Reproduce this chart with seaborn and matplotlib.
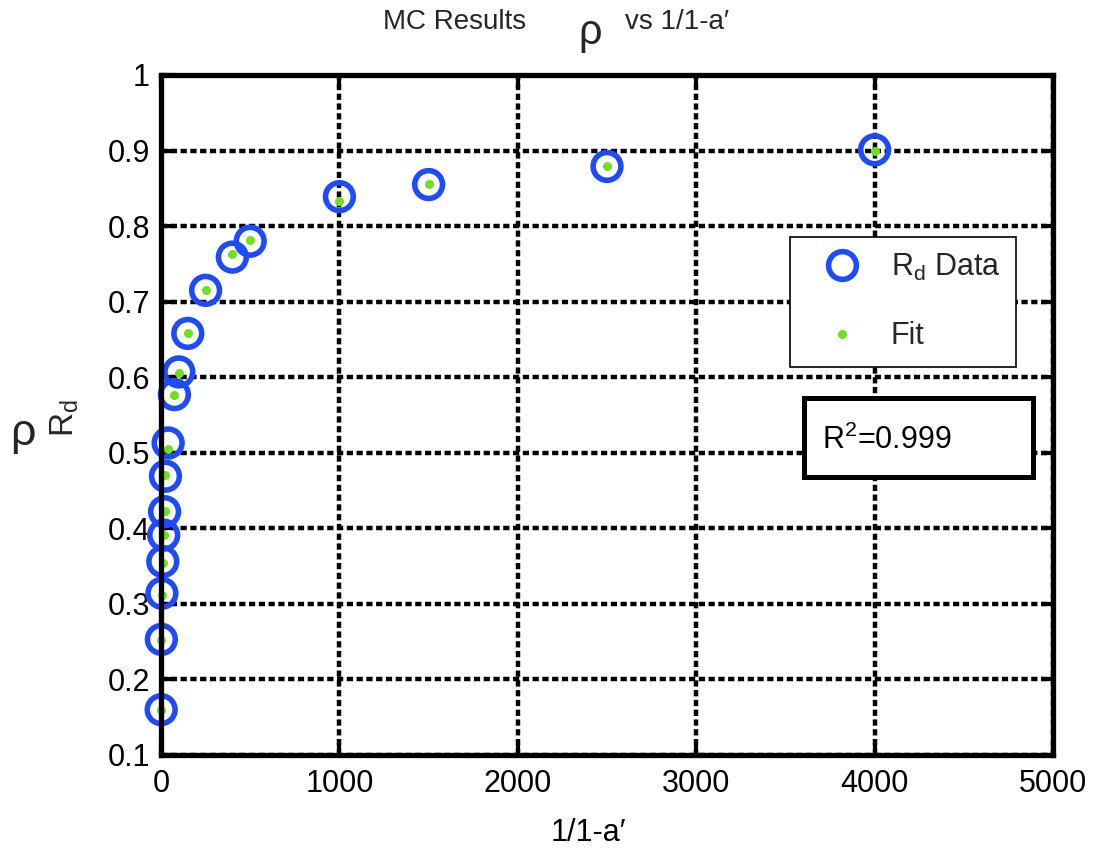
import matplotlib
matplotlib.use("Agg")
import matplotlib.pyplot as plt
import numpy as np
import pandas as pd
import seaborn as sns
from matplotlib.lines import Line2D
from matplotlib.patches import Rectangle

# ---- data ----
x_vals = [1, 2, 5, 10, 15, 20, 25, 40, 75, 100, 150, 250, 400, 500, 1000, 1500, 2500, 4000]
rd_data = [0.160, 0.253, 0.314, 0.356, 0.391, 0.422, 0.469, 0.513, 0.577, 0.607,
           0.658, 0.715, 0.759, 0.780, 0.839, 0.855, 0.879, 0.901]
rd_fit = [0.160, 0.252, 0.312, 0.354, 0.391, 0.423, 0.471, 0.505, 0.576, 0.606,
          0.658, 0.715, 0.763, 0.782, 0.833, 0.856, 0.879, 0.899]
x_ticks = [0, 1000, 2000, 3000, 4000, 5000]
x_ticklabels = ["0", "1000", "2000", "3000", "4000", "5000"]
y_ticks = [0.1, 0.2, 0.3, 0.4, 0.5, 0.6, 0.7, 0.8, 0.9, 1.0]
y_ticklabels = ["0.1", "0.2", "0.3", "0.4", "0.5", "0.6", "0.7", "0.8", "0.9", "1"]
legend_labels = [r"R$_\mathregular{d}$ Data", "Fit"]
r2_label = r"R$^\mathregular{2}$=0.999"

BLUE = "#1f4bff"
GREEN = "#6ee01e"

sns.set_theme(style="white")
plt.rcParams["font.family"] = ["Liberation Sans", "DejaVu Sans"]
plt.rcParams["mathtext.fontset"] = "custom"
plt.rcParams["mathtext.rm"] = "Liberation Sans"

fig = plt.figure(figsize=(10.99, 8.56), dpi=100)
fig.patch.set_facecolor("white")
ax = fig.add_axes([161 / 1099, 1 - 755 / 856, 892 / 1099, 680 / 856])

df = pd.DataFrame({"x": x_vals, "data": rd_data, "fit": rd_fit})

sns.scatterplot(data=df, x="x", y="data", ax=ax, s=400, marker="o", legend=False, zorder=3)
c1 = ax.collections[-1]
c1.set_facecolor("none")
c1.set_edgecolor(BLUE)
c1.set_linewidth(4)
c1.set_clip_on(False)

sns.scatterplot(data=df, x="x", y="fit", ax=ax, s=42, marker="o", color=GREEN,
                linewidth=0, legend=False, zorder=4)
c2 = ax.collections[-1]
c2.set_clip_on(False)

ax.set_xlim(0, 5000)
ax.set_ylim(0.1, 1.0)
ax.set_xticks(x_ticks)
ax.set_xticklabels(x_ticklabels)
ax.set_yticks(y_ticks)
ax.set_yticklabels(y_ticklabels)

ax.grid(True, color="black", linestyle=(0, (1.4, 0.8)), linewidth=3.2)
ax.set_axisbelow(True)

for sp in ax.spines.values():
    sp.set_visible(True)
    sp.set_color("black")
    sp.set_linewidth(3.8)
    sp.set_zorder(5)

ax.tick_params(axis="both", direction="in", length=9, width=3, color="black",
               top=True, right=True, bottom=True, left=True, labelsize=22,
               labelcolor="black")
ax.tick_params(axis="x", pad=10)
ax.tick_params(axis="y", pad=8)

ax.set_xlabel("1/1-a\u2032", fontsize=22, color="black")
ax.xaxis.set_label_coords((588 - 161) / 892, -0.093)
ax.set_ylabel("")

# legend
handles = [
    Line2D([], [], marker="o", ls="", markersize=20, markerfacecolor="none",
           markeredgecolor=BLUE, markeredgewidth=4),
    Line2D([], [], marker="o", ls="", markersize=6.5, markerfacecolor=GREEN,
           markeredgecolor="none"),
]
leg = ax.legend(handles, legend_labels, loc="upper left", bbox_to_anchor=(0.705, 0.762),
                borderaxespad=0, fontsize=22, frameon=True, fancybox=False,
                framealpha=1, edgecolor="black", borderpad=0.5, handlelength=2.4,
                handletextpad=0.4, labelspacing=1.25)
leg.get_frame().set_linewidth(1.2)
leg.set_zorder(6)

# R^2 box
ax.add_patch(Rectangle((0.721, 0.409), 0.257, 0.116, transform=ax.transAxes,
                       facecolor="white", edgecolor="black", linewidth=3.6,
                       zorder=6, clip_on=False))
ax.text((822 - 161) / 892, (755 - 440) / 680, r2_label, transform=ax.transAxes,
        fontsize=22, ha="left", va="center", zorder=7, color="black")

# title pieces
fig.text(383 / 1099, 1 - 29 / 856, "MC Results", fontsize=20, ha="left", va="baseline")
fig.text(578 / 1099, 1 - 44 / 856, "\u03c1", fontsize=30, ha="left", va="baseline")
fig.text(625 / 1099, 1 - 29 / 856, "vs 1/1-a\u2032", fontsize=20, ha="left", va="baseline")

# y label pieces
fig.text(23 / 1099, 1 - 445 / 856, "\u03c1", fontsize=32, ha="center", va="baseline")
fig.text(65 / 1099, 1 - 418 / 856, r"R$_\mathregular{d}$", fontsize=24, rotation=90,
         ha="center", va="center")

fig.savefig("out.png", dpi=100, facecolor="white")
